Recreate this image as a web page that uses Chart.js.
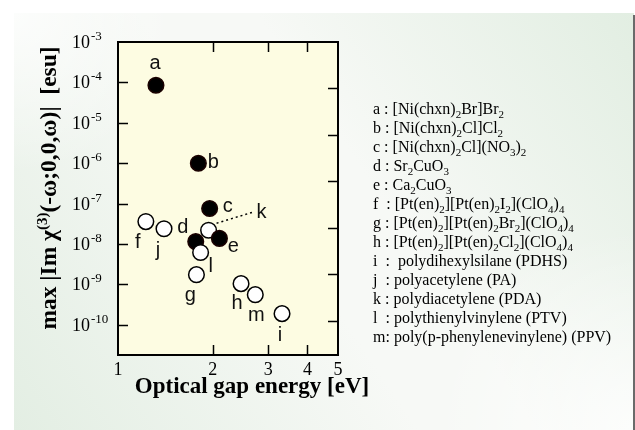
<!DOCTYPE html>
<html>
<head>
<meta charset="utf-8">
<script src="https://cdn.jsdelivr.net/npm/chart.js@4.4.1/dist/chart.umd.min.js"></script>
<style>
  html, body { margin: 0; padding: 0; background: #fff; }
</style>
</head>
<body>
<canvas id="chart" width="635" height="430"></canvas>
<script>
// samples (drawing order matters where circles overlap)
const sampleNames = ["a", "b", "c", "f", "j", "k", "d", "l", "e", "g", "h", "m", "i"];
// optical gap energy [eV]
const gapEnergy = [1.32, 1.80, 1.955, 1.226, 1.40, 1.94, 1.766, 1.83, 2.10, 1.775, 2.46, 2.73, 3.32];
// max |Im chi(3)| [esu]
const chi3 = [8.5e-5, 1e-6, 7.6e-8, 3.6e-8, 2.4e-8, 2.2e-8, 1.15e-8, 6.2e-9, 1.38e-8, 1.75e-9, 1.05e-9, 5.6e-10, 1.9e-10];
// black = 1D halogen-bridged / cuprates, white = others
const filled = [true, true, true, false, false, false, true, false, true, false, false, false, false];

const xTickValues = [1, 2, 3, 4, 5];
const yTickExponents = [-3, -4, -5, -6, -7, -8, -9, -10];
const rightTickSteps = [1, 2, 3, 4, 5, 6];

// "_x" = subscript x
const legendLines = [
  "a : [Ni(chxn)_2Br]Br_2",
  "b : [Ni(chxn)_2Cl]Cl_2",
  "c : [Ni(chxn)_2Cl](NO_3)_2",
  "d : Sr_2CuO_3",
  "e : Ca_2CuO_3",
  "f  : [Pt(en)_2][Pt(en)_2I_2](ClO_4)_4",
  "g : [Pt(en)_2][Pt(en)_2Br_2](ClO_4)_4",
  "h : [Pt(en)_2][Pt(en)_2Cl_2](ClO_4)_4",
  "i  :  polydihexylsilane (PDHS)",
  "j  : polyacetylene (PA)",
  "k : polydiacetylene (PDA)",
  "l  : polythienylvinylene (PTV)",
  "m: poly(p-phenylenevinylene) (PPV)"
];

// label position relative to the point centre (baseline)
const labelOffset = {
  a: [-1, -16], b: [15, 5], c: [18, 4], k: [53, -12], d: [-13, -9], e: [14, 14],
  f: [-8, 26], j: [-6, 27], l: [10, 20], g: [-6, 26], h: [-4, 25], m: [1, 26], i: [-2, 27]
};

const SERIF = "'Liberation Serif', 'Times New Roman', serif";
const SANS = "'Liberation Sans', Arial, sans-serif";

function drawSubText(c, str, x, y) {
  const parts = str.split(/_(.)/);
  parts.forEach((p, idx) => {
    if (!p) return;
    if (idx % 2 === 1) {
      c.font = "11px " + SERIF;
      c.fillText(p, x, y + 4);
    } else {
      c.font = "16px " + SERIF;
      c.fillText(p, x, y);
    }
    x += c.measureText(p).width;
  });
}

const decor = {
  id: "decor",
  beforeDraw(chart) {
    const c = chart.ctx, a = chart.chartArea;
    c.save();
    c.fillStyle = "#fff";
    c.fillRect(0, 0, chart.width, chart.height);
    // panel
    const g = c.createLinearGradient(634, 13, 14, 430);
    g.addColorStop(0, "#e2eee2");
    g.addColorStop(0.42, "#f7f9f6");
    g.addColorStop(0.55, "#f7f9f6");
    g.addColorStop(1, "#e3eee3");
    c.fillStyle = g;
    c.fillRect(14, 13, 620, 417);
    const r = c.createRadialGradient(14, 13, 0, 14, 13, 160);
    r.addColorStop(0, "rgba(255,255,255,0.8)");
    r.addColorStop(1, "rgba(255,255,255,0)");
    c.fillStyle = r;
    c.fillRect(14, 13, 200, 200);
    const r2 = c.createRadialGradient(634, 430, 0, 634, 430, 200);
    r2.addColorStop(0, "rgba(255,255,255,0.8)");
    r2.addColorStop(1, "rgba(255,255,255,0)");
    c.fillStyle = r2;
    c.fillRect(400, 200, 234, 230);
    c.fillStyle = "#6a6a6a";
    c.fillRect(633, 15, 2, 415);
    // plot area
    c.fillStyle = "#fdfce2";
    c.fillRect(a.left, a.top, a.right - a.left, a.bottom - a.top);
    c.restore();
  },
  afterDraw(chart) {
    const c = chart.ctx, a = chart.chartArea;
    const xs = chart.scales.x, ys = chart.scales.y, y2 = chart.scales.y2;
    c.save();

    // frame
    c.strokeStyle = "#000";
    c.lineWidth = 2;
    c.strokeRect(a.left, a.top, a.right - a.left, a.bottom - a.top);

    // inward ticks
    c.lineWidth = 1.5;
    c.beginPath();
    xTickValues.slice(1, -1).forEach(v => {
      const px = Math.round(xs.getPixelForValue(v)) + 0.5;
      c.moveTo(px, a.bottom); c.lineTo(px, a.bottom - 10);
      c.moveTo(px, a.top); c.lineTo(px, a.top + 10);
    });
    yTickExponents.slice(1).forEach(e => {
      const py = Math.round(ys.getPixelForValue(Math.pow(10, e))) + 0.5;
      c.moveTo(a.left, py); c.lineTo(a.left + 10, py);
    });
    rightTickSteps.forEach(v => {
      const py = Math.round(y2.getPixelForValue(v)) + 0.5;
      c.moveTo(a.right, py); c.lineTo(a.right - 10, py);
    });
    c.stroke();

    // x tick labels
    c.fillStyle = "#000";
    c.font = "18px " + SERIF;
    c.textAlign = "center";
    c.textBaseline = "alphabetic";
    xTickValues.forEach(v => c.fillText(String(v), xs.getPixelForValue(v), 375));

    // y tick labels 10^n
    c.textAlign = "left";
    yTickExponents.forEach(e => {
      const py = ys.getPixelForValue(Math.pow(10, e));
      c.font = "18px " + SERIF;
      c.fillText("10", 72, py + 6);
      const w = c.measureText("10").width;
      c.font = "13px " + SERIF;
      c.fillText(String(e), 72 + w + 1, py - 2);
    });

    // x title
    c.font = "bold 23px " + SERIF;
    c.textAlign = "center";
    c.fillText("Optical gap energy [eV]", 252, 393);

    // y title (rotated)
    c.save();
    c.translate(56, 188);
    c.rotate(-Math.PI / 2);
    c.textAlign = "left";
    const segs = [["max |Im \u03c7", false], ["(3)", true], ["(-\u03c9;0,0,\u03c9)|  [esu]", false]];
    const fontFor = s => s ? "bold 15px " + SERIF : "bold 23.5px " + SERIF;
    let total = 0;
    segs.forEach(([t, s]) => { c.font = fontFor(s); total += c.measureText(t).width; });
    let tx = -total / 2;
    segs.forEach(([t, s]) => {
      c.font = fontFor(s);
      c.fillText(t, tx, s ? -9 : 0);
      tx += c.measureText(t).width;
    });
    c.restore();

    // point labels
    const meta = chart.getDatasetMeta(0);
    c.font = "20px " + SANS;
    c.fillStyle = "#111";
    c.textAlign = "center";
    sampleNames.forEach((n, i) => {
      const p = meta.data[i];
      const off = labelOffset[n];
      c.fillText(n, p.x + off[0], p.y + off[1]);
      if (n === "k") {
        c.save();
        c.strokeStyle = "#000";
        c.lineWidth = 1.5;
        c.setLineDash([2, 3]);
        c.beginPath();
        c.moveTo(p.x + 8, p.y - 7);
        c.lineTo(p.x + 44, p.y - 18);
        c.stroke();
        c.restore();
      }
    });

    // compound list
    c.fillStyle = "#000";
    c.textAlign = "left";
    legendLines.forEach((line, i) => drawSubText(c, line, 373, 114 + 19 * i));

    c.restore();
  }
};

new Chart(document.getElementById("chart"), {
  type: "scatter",
  data: {
    datasets: [{
      data: gapEnergy.map((x, i) => ({ x: x, y: chi3[i] })),
      pointRadius: 7.8,
      pointHoverRadius: 7.8,
      pointBackgroundColor: filled.map(f => f ? "#000" : "#fff"),
      pointBorderColor: filled.map(f => f ? "#1a0000" : "#000"),
      pointBorderWidth: 1.5
    }]
  },
  options: {
    responsive: false,
    animation: false,
    devicePixelRatio: 1,
    layout: { padding: { left: 118, right: 297, top: 42, bottom: 75 } },
    plugins: { legend: { display: false }, tooltip: { enabled: false } },
    scales: {
      x: { type: "logarithmic", min: 1, max: 5, bounds: "data", display: false },
      y: { type: "logarithmic", min: 1.8e-11, max: 1e-3, bounds: "data", display: false },
      y2: { type: "linear", position: "right", min: 0, max: 6.74, reverse: true, display: false }
    }
  },
  plugins: [decor]
});
</script>
</body>
</html>
